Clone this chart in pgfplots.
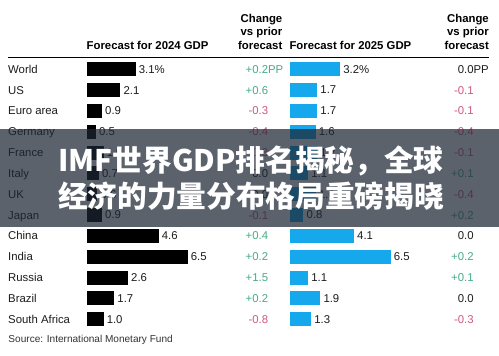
\documentclass[border=0pt]{standalone}
\usepackage{pgfplots}
\pgfplotsset{compat=1.18}
\usepackage{pgfplotstable}
\usepackage{fontspec}
\setmainfont{Liberation Sans}
\newfontfamily\cjk{Noto Sans CJK SC}
\definecolor{barblue}{RGB}{22,168,236}
\definecolor{pos}{RGB}{70,172,138}
\definecolor{neg}{RGB}{208,88,128}
\definecolor{txt}{RGB}{28,28,28}
\definecolor{band}{RGB}{30,38,52}

% 2024 forecast
\pgfplotstableread{
y v lab
0 3.1 {3.1\%}
-1 2.1 2.1
-2 0.9 0.9
-3 0.5 0.5
-4 1.0 1.0
-5 0.7 0.7
-6 0.6 0.6
-7 0.9 0.9
-8 4.6 4.6
-9 6.5 6.5
-10 2.6 2.6
-11 1.7 1.7
-12 1.0 1.0
}\gdpA

% 2025 forecast
\pgfplotstableread{
y v lab
0 3.2 {3.2\%}
-1 1.7 1.7
-2 1.7 1.7
-3 1.6 1.6
-4 1.7 1.7
-5 1.1 1.1
-6 1.6 1.6
-7 0.8 0.8
-8 4.1 4.1
-9 6.5 6.5
-10 1.1 1.1
-11 1.9 1.9
-12 1.3 1.3
}\gdpB

\newcommand{\tf}{\fontsize{11.4}{13}\selectfont}

\begin{document}
\begin{tikzpicture}
\path[use as bounding box] (0,0) rectangle (499bp,356bp);
\fill[white] (0,0) rectangle (499bp,356bp);

\pgfplotsset{gdpbars/.style={
  anchor=south west, x=15.3bp, y=20.84bp,
  xmin=0, xmax=7, ymin=-12.5, ymax=0.5,
  hide axis, clip=false,
  xbar, bar width=12.5bp, bar shift=0pt,
  nodes near coords, point meta=explicit symbolic,
  every node near coord/.append style={anchor=west, inner sep=0pt, xshift=3.2bp, font=\tf, text=txt}
}}

\begin{axis}[gdpbars, at={(87.5bp,26.3bp)}]
\addplot[fill=black, draw=black, line width=1.5bp] table[x=v, y=y, meta=lab] {\gdpA};
\end{axis}

\begin{axis}[gdpbars, at={(290.5bp,26.3bp)}]
\addplot[fill=barblue, draw=barblue, line width=1.5bp] table[x=v, y=y, meta=lab] {\gdpB};
\end{axis}

% country names
\foreach \n [count=\i from 0] in {World,US,Euro area,Germany,France,Italy,UK,Japan,China,India,Russia,Brazil,South Africa}
  \node[anchor=base west, inner sep=0pt, font=\tf, text=txt] at (8bp, {(286.8-4.0-20.84*\i)*1bp}) {\n};

% change vs prior forecast, 2024
\foreach \c/\v [count=\i from 0] in {pos/+0.2\rlap{PP},pos/+0.6,neg/-0.3,neg/-0.4,neg/-0.3,txt/0.0,txt/0.0,neg/-0.1,pos/+0.4,pos/+0.2,pos/+1.5,pos/+0.2,neg/-0.8}
  \node[anchor=base east, inner sep=0pt, font=\tf, text=\c] at (268.3bp, {(286.8-4.0-20.84*\i)*1bp}) {\v};

% change vs prior forecast, 2025
\foreach \c/\v [count=\i from 0] in {txt/0.0\rlap{PP},neg/-0.1,neg/-0.1,neg/-0.4,neg/-0.1,pos/+0.1,neg/-0.4,pos/+0.2,txt/0.0,pos/+0.2,pos/+0.1,txt/0.0,neg/-0.3}
  \node[anchor=base east, inner sep=0pt, font=\tf, text=\c] at (473.8bp, {(286.8-4.0-20.84*\i)*1bp}) {\v};

% headers
\node[anchor=base west, inner sep=0pt, font=\bfseries\tf] at (86.5bp,306.5bp) {Forecast for 2024 GDP};
\node[anchor=base west, inner sep=0pt, font=\bfseries\tf] at (289.3bp,306.5bp) {Forecast for 2025 GDP};
\foreach \x in {282.5,489} {
  \node[anchor=base east, inner sep=0pt, font=\bfseries\tf] at (\x bp,333.5bp) {Change};
  \node[anchor=base east, inner sep=0pt, font=\bfseries\tf] at (\x bp,320bp) {vs prior};
  \node[anchor=base east, inner sep=0pt, font=\bfseries\tf] at (\x bp,306.5bp) {forecast};
}
\draw[line width=1.6bp, black] (8bp,298.5bp) -- (489bp,298.5bp);

% source
\node[anchor=base west, inner sep=0pt, font=\fontsize{10.1}{12}\selectfont, text=black!80] at (8.3bp,13.5bp) {Source: International Monetary Fund};

% overlay band and title
\fill[band, opacity=0.72] (0,129bp) rectangle (499bp,227bp);
\node[anchor=base, inner sep=0pt, text=white, font=\cjk\bfseries\fontsize{29.8}{30}\selectfont] at (251bp,184bp) {IMF世界GDP排名揭秘，全球};
\node[anchor=base, inner sep=0pt, text=white, font=\cjk\bfseries\fontsize{29.8}{30}\selectfont] at (251bp,148bp) {经济的力量分布格局重磅揭晓};
\end{tikzpicture}
\end{document}
